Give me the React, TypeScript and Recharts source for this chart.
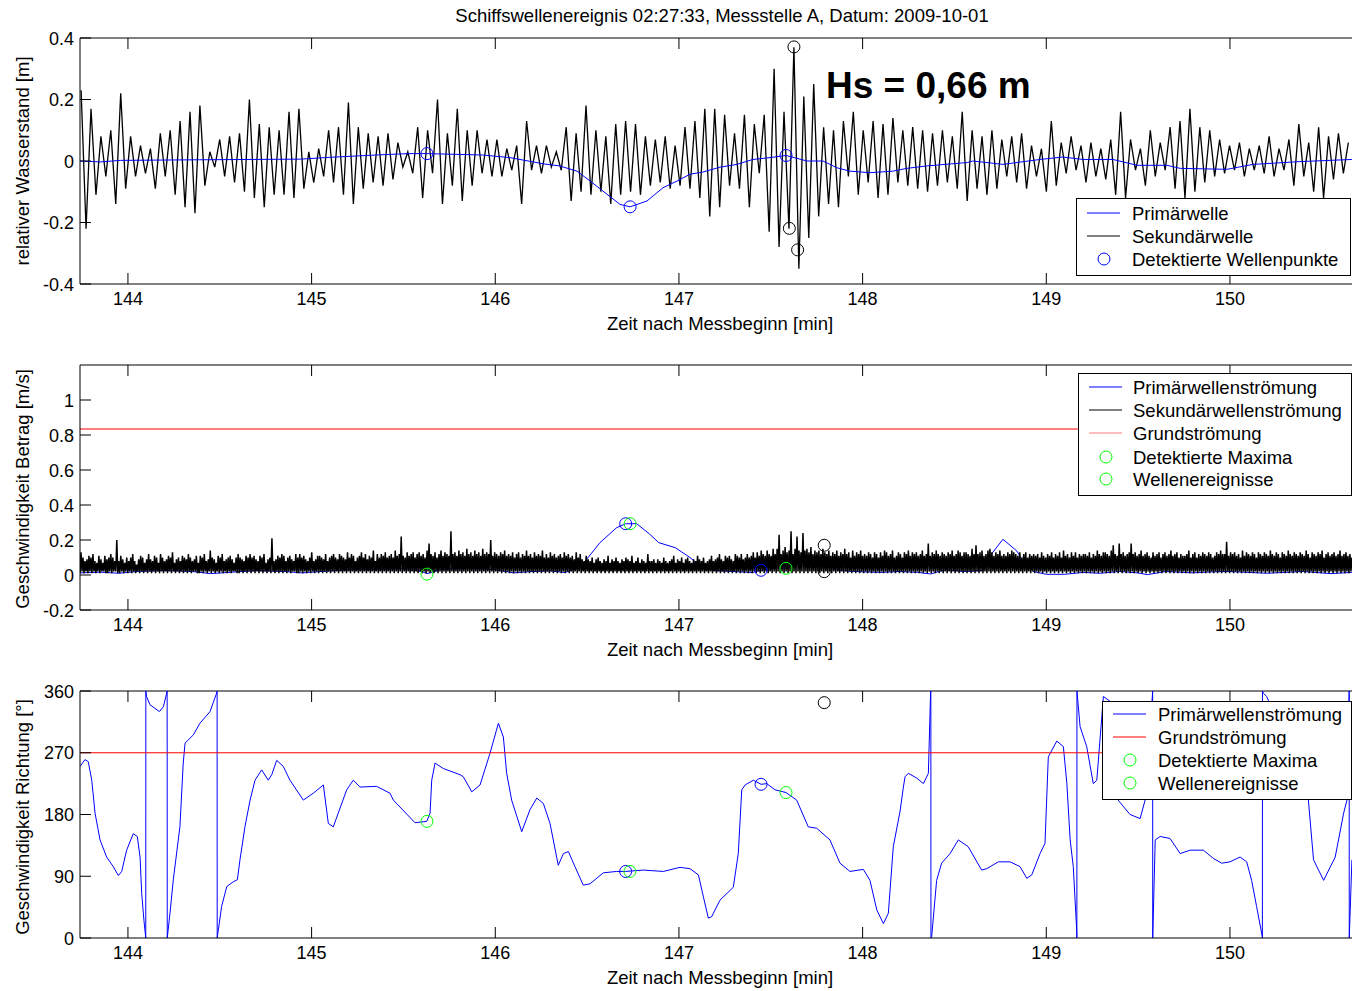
import React from "react";
import { ComposedChart, Line, Scatter, XAxis, YAxis, ReferenceLine } from "recharts";

const X_MIN = 143.739;
const X_MAX = 150.708;
const xTicks = [144, 145, 146, 147, 148, 149, 150];

const title = "Schiffswellenereignis 02:27:33, Messstelle A, Datum: 2009-10-01";
const xLabel = "Zeit nach Messbeginn [min]";
const hsText = "Hs = 0,66 m";

// ---- Panel 1: Wasserstand ----
const wasserTicks = [-0.4, -0.2, 0, 0.2, 0.4];
const sekStart = 143.745;
const sekStep = 0.026951;
// Sekundärwelle in cm, one value per sample
const sekundaerCm =
  "23,-22,17,-11,8,-5,10,-14,22,-9,8,-5,5,-4,4,-9,9,-5,10,-11,13,-15,16,-17,18,-8,3,-2,7,-5," +
  "8,-7,9,-10,20,-12,12,-15,11,-11,10,-11,16,-12,17,-9,3,-7,4,-5,10,-7,11,-11,19,-14,11,-9,9,-7," +
  "8,-8,9,-6,6," +
  "-2,3,-4,11,-12,10,-4,20,-14,9,-8,17,-13,10,-8,10,-4,7,-5,7,-5,4,-3,5,-14,13,-3,5,-4,5," +
  "-2,3,-3,11,-13,9,-10,18,-11,10,-10,8,-14,12,-11,13,-10,12,-11,8,-8,7,-7,8,-9,5,-8,11,-9,13," +
  "-12,17,-18,17," +
  "-15,15,-8,9,-9,15,-15,12,-4,15,-23,30,-28,16,-22,37,-35,21,-25,25,-18,11,-14,10,-15,13,-5,16,-11,10," +
  "-7,13,-12,12,-11,14,-7,10,-8,11,-9,10,-10,9,-8,10,-7,8,-9,16,-13,10,-9,8,-11,10,-9,7,-5,8," +
  "-7,9," +
  "-9,5,-5,4,-10,13,-8,6,-4,8,-3,5,-7,6,-5,4,-6,7,-11,16,-12,7,-3,4,-8,10,-5,6,-3,11," +
  "-9,13,-12,17,-10,11,-7,10,-5,7,-4,5,-3,6,-5,4,-3,5,-4,8,-5,4,-3,7,-8,12,-5,6,-10,11," +
  "-12,8,-6,9,-4,6";

const primaerWelle: [number, number][] = [
  [143.739, 0.0], [143.85, -0.003], [143.96, 0.002], [144.39, 0.004], [144.94, 0.006],
  [145.1, 0.012], [145.37, 0.02], [145.525, 0.024], [145.628, 0.024], [145.93, 0.0195],
  [146.08, 0.011], [146.26, -0.009], [146.35, -0.016], [146.445, -0.033], [146.516, -0.065],
  [146.608, -0.108], [146.679, -0.141], [146.734, -0.149], [146.826, -0.13], [146.913, -0.087],
  [146.99, -0.065], [147.06, -0.043], [147.13, -0.036], [147.224, -0.02], [147.316, -0.011],
  [147.403, 0.005], [147.496, 0.011], [147.583, 0.018], [147.697, 0.0], [147.784, 0.0],
  [147.86, -0.022], [147.93, -0.033], [148.04, -0.038], [148.165, -0.033], [148.24, -0.024],
  [148.35, -0.016], [148.57, -0.005], [148.6, 0.0], [148.764, -0.011], [148.966, 0.005],
  [149.09, 0.013], [149.2, 0.005], [149.363, 0.005], [149.494, -0.014], [149.657, -0.014],
  [149.73, -0.024], [149.984, -0.027], [150.126, -0.011], [150.38, -0.002], [150.664, 0.005],
];
const wellenpunkte: [number, number][] = [[145.628, 0.024], [146.734, -0.149], [147.583, 0.018]];
const hsPunkte: [number, number][] = [[147.626, 0.371], [147.601, -0.219], [147.646, -0.289]];

// ---- Panel 2: Betrag ----
const betragTicks = [-0.2, 0, 0.2, 0.4, 0.6, 0.8, 1];
const grundBetrag = 0.834;
// Sekundärwellenströmung in cm/s, base 36 digits, one sample per character
const sekStroemung = [
  "1d2a18291b", "2a1c28172b", "19272b191a", "2c1a282k18", "1b29172a18", "2a1c281629",
  "1b2a17291c", "29182b1a27", "1c2a18291b", "2a1d27192a", "182b1a291c", "2a18292b17",
  "1b2a1c2819", "2e1a29172b", "1a2c18291a", "2b19272a1c", "1a29182b1a", "2c1a2b1928",
  "1b2a1c2719", "2a1l28192b", "1a2c1b281a", "2b19282c1a", "1c2a1b2918", "2a1d28192b",
  "1b2a192c18", "2a1b2c1a29", "1c2b1a291d", "2a1c2b182a", "1b2d1a2c19", "2b1a2e182c",
  "1a2c1b2d1a", "2b1c2a1e2b", "1c2m1b2a1d", "2b1c2d1a2c", "1d2b1c2a1e", "2i1c2b1d2a",
  "1c2e1b2d1c", "2b1p2c1d2b", "1e2c1d2b1f", "2c1d2b1e2c", "1d2b1f2c1d", "2c1k2b1d2c",
  "1b2d1c2e1b", "2c1b2d1a2c", "1d2a1c2b1e", "2b1c2a1d2b", "1c2b1e2a1c", "2a1d2b1c2a",
  "1b2c1a2d1b", "2c1a2b192d", "1a2c19281b", "29182a1729", "1a28172918", "2b1729182a",
  "182719281a", "29182b1728", "1a27192817", "2c18281927", "1928172a18", "2718291b27",
  "19281a2719", "2a18271928", "1b29182a17", "28192b1829", "1a2c19281b", "2a1b29182c",
  "1b2a1c291a", "2c1a2b1d2a", "1d2b1e2c1b", "2e1c2b1f2c", "1f2n1c2e1g", "2d1e2p1c2f",
  "1m2e1d2o1e", "2f1d2g1c2e", "1d2e1c2f1d", "2c1e2b1d2c", "1e2b1d2c1f", "2c1d2a1e2b",
  "1d2c1e2b1c", "2b1d2c1a2d", "1c2a1d2b1e", "2d1b2c1e2a", "1b2d1c2a1d", "2c1e2b1d2c",
  "1d2b1c2e1b", "2c1i2b1d2c", "1e2c1b2d1c", "2b1d2c1e2b", "1c2e1d2b1d", "2d1c2b1f2c",
  "1h2c1d2e1b", "2c1e2f1d2b", "1d2c1e2b1c", "2b1d2c1e2d", "1c2b1d2a1c", "2d1a2c1b2c",
  "1b2c1a2d1b", "2a1c2b1d2a", "1c2b1d2a1e", "2b1c2a1d2b", "1d2a1c2b1c", "2c1b2d1a2c",
  "1b2e1c2b1d", "2d1c2b1e2h", "1c2b1i2c1d", "2b1c2d1i2c", "1d2b1c2e1b", "2c1d2b1a2d",
  "1b2c1d2a1c", "2d1b2c1e2b", "1c2d1a2c1b", "2b1c2e1a2c", "1d2a1c2b1d", "2c1b2d1c2a",
  "1b2d1c2e1c", "2c1j2b1d2c", "1d2b1c2a1e", "2b1d2c1b2d", "1c2a1d2c1b", "2d1c2b1e2c",
  "1b2d1c2a1d", "2c1b2e1c2b", "1d2c1b2d1c", "2b1e2c1a2d", "1c2b1d2c1e", "2a1c2d1b2c",
  "1d2b1c2e1b", "2c1d2b1c2a",
].join("");
const primaerStroemung: [number, number][] = [
  [143.739, 0.012], [143.85, 0.016], [143.95, 0.01], [144.05, 0.02], [144.2, 0.026], [144.35, 0.02],
  [144.45, 0.008], [144.55, 0.015], [144.7, 0.025], [144.85, 0.02], [144.95, 0.012], [145.05, 0.02],
  [145.2, 0.03], [145.35, 0.03], [145.5, 0.036], [145.6, 0.02], [145.628, 0.008], [145.7, 0.03],
  [145.85, 0.04], [146.0, 0.03], [146.1, 0.012], [146.2, 0.02], [146.3, 0.024], [146.38, 0.014],
  [146.45, 0.04], [146.49, 0.08], [146.57, 0.185], [146.66, 0.27], [146.71, 0.293], [146.77, 0.293],
  [146.84, 0.234], [146.89, 0.185], [146.98, 0.156], [147.06, 0.1], [147.13, 0.04], [147.2, 0.025],
  [147.3, 0.02], [147.4, 0.014], [147.447, 0.027], [147.53, 0.04], [147.583, 0.038], [147.66, 0.08],
  [147.75, 0.11], [147.79, 0.08], [147.85, 0.03], [147.95, 0.02], [148.1, 0.015], [148.2, 0.02],
  [148.3, 0.015], [148.37, 0.006], [148.45, 0.03], [148.55, 0.02], [148.65, 0.025], [148.7, 0.118],
  [148.764, 0.204], [148.84, 0.137], [148.873, 0.08], [148.93, 0.02], [149.0, 0.004], [149.1, 0.004],
  [149.2, 0.015], [149.29, 0.01], [149.4, 0.02], [149.5, 0.012], [149.55, 0.002], [149.65, 0.02],
  [149.8, 0.012], [149.9, 0.018], [150.0, 0.02], [150.2, 0.01], [150.4, 0.02], [150.55, 0.008],
  [150.664, 0.015],
];
const betragMaxima: [number, number][] = [[146.71, 0.293], [147.447, 0.027]];
const betragEreignisse: [number, number][] = [[145.628, 0.005], [146.734, 0.293], [147.583, 0.038]];
const betragSchwarz: [number, number][] = [[147.791, 0.17], [147.791, 0.019]];

// ---- Panel 3: Richtung ----
const richtungTicks = [0, 90, 180, 270, 360];
const grundRichtung = 270;
const richtung: [number, number][] = [
  [143.739, 250], [143.766, 260], [143.784, 257], [143.803, 230], [143.821, 182], [143.848, 143],
  [143.884, 118], [143.92, 104], [143.948, 91], [143.966, 97], [143.993, 128], [144.029, 152],
  [144.051, 148], [144.066, 118], [144.075, 65], [144.087, 26], [144.097, 0],
  [144.0975, 360], [144.101, 352], [144.12, 340], [144.171, 330], [144.193, 337], [144.211, 357], [144.2135, 360],
  [144.214, 0], [144.229, 36], [144.247, 85], [144.283, 162], [144.301, 255], [144.311, 284],
  [144.356, 296], [144.392, 313], [144.447, 330], [144.483, 357], [144.4855, 360],
  [144.486, 0], [144.51, 46], [144.538, 75], [144.574, 82], [144.596, 85], [144.61, 114],
  [144.637, 162], [144.665, 201], [144.692, 230], [144.728, 245], [144.764, 230], [144.783, 238],
  [144.81, 259], [144.846, 250], [144.882, 230], [144.955, 201], [145.009, 211], [145.064, 223],
  [145.091, 167], [145.118, 162], [145.145, 182], [145.191, 216], [145.227, 230], [145.263, 220],
  [145.354, 221], [145.427, 211], [145.445, 201], [145.563, 168], [145.627, 170], [145.645, 182],
  [145.654, 230], [145.672, 255], [145.717, 247], [145.808, 238], [145.826, 235], [145.872, 213],
  [145.917, 223], [145.971, 269], [146.017, 313], [146.044, 293], [146.062, 240], [146.089, 201],
  [146.144, 155], [146.189, 187], [146.226, 204], [146.262, 196], [146.298, 167], [146.343, 106],
  [146.371, 123], [146.398, 126], [146.434, 104], [146.479, 77], [146.516, 79], [146.588, 95],
  [146.661, 97], [146.71, 97], [146.806, 99], [146.915, 97], [147.006, 103], [147.06, 101],
  [147.106, 92], [147.133, 60], [147.16, 29], [147.178, 31], [147.223, 55], [147.296, 74],
  [147.323, 123], [147.342, 216], [147.36, 223], [147.405, 230], [147.447, 224], [147.478, 225],
  [147.523, 216], [147.583, 212], [147.641, 201], [147.704, 162], [147.75, 160], [147.822, 143],
  [147.877, 109], [147.931, 97], [148.004, 100], [148.04, 84], [148.077, 41], [148.113, 21],
  [148.14, 36], [148.167, 133], [148.204, 185], [148.222, 220], [148.231, 235], [148.249, 240],
  [148.295, 233], [148.331, 225], [148.358, 240], [148.37, 357], [148.3715, 360],
  [148.372, 0], [148.376, 2], [148.403, 84], [148.43, 109], [148.476, 123], [148.521, 143],
  [148.575, 133], [148.648, 99], [148.676, 101], [148.739, 111], [148.803, 111], [148.857, 104],
  [148.894, 87], [148.921, 92], [148.966, 123], [148.993, 138], [149.011, 264], [149.057, 287],
  [149.093, 279], [149.112, 225], [149.13, 143], [149.147, 104], [149.166, 9], [149.1665, 0],
  [149.167, 360], [149.184, 308], [149.22, 279], [149.256, 225], [149.275, 230], [149.311, 352],
  [149.347, 345], [149.391, 201], [149.456, 180], [149.511, 174], [149.538, 201], [149.566, 300], [149.579, 360],
  [149.5795, 0], [149.593, 143], [149.62, 148], [149.674, 145], [149.729, 123], [149.783, 128],
  [149.855, 128], [149.91, 116], [149.955, 109], [150.0, 111], [150.055, 118], [150.091, 111],
  [150.118, 84], [150.145, 46], [150.176, 2], [150.1765, 0],
  [150.177, 360], [150.181, 357], [150.2, 352], [150.3, 290], [150.427, 201], [150.455, 114],
  [150.51, 84], [150.573, 118], [150.619, 182], [150.637, 201], [150.645, 300], [150.649, 360],
  [150.6495, 0], [150.664, 114],
];
const richtungMaxima: [number, number][] = [[146.71, 97], [147.447, 224]];
const richtungEreignisse: [number, number][] = [[145.628, 170], [146.733, 97], [147.583, 212]];
const richtungSchwarz: [number, number][] = [[147.791, 343]];

const legend1 = ["Primärwelle", "Sekundärwelle", "Detektierte Wellenpunkte"];
const legend2 = ["Primärwellenströmung", "Sekundärwellenströmung", "Grundströmung", "Detektierte Maxima", "Wellenereignisse"];
const legend3 = ["Primärwellenströmung", "Grundströmung", "Detektierte Maxima", "Wellenereignisse"];

const FONT = "'Liberation Sans', Arial, Helvetica, sans-serif";
const BLUE = "#0000ff";
const GREEN = "#00ff00";
const PINK = "#ff7f7f";

const pts = (arr: [number, number][]) => arr.map(([t, v]) => ({ t, v }));
const sekundaer = sekundaerCm.split(",").map((s, i) => ({ t: sekStart + i * sekStep, v: Number(s) / 100 }));
const betragStep = (150.664 - X_MIN) / (sekStroemung.length - 1);
const sekBetrag = sekStroemung.split("").map((c, i) => ({ t: X_MIN + i * betragStep, v: parseInt(c, 36) / 100 }));

function XTick(props: any) {
  const { x, y, payload, plotH } = props;
  return (
    <g>
      <line x1={x} x2={x} y1={y} y2={y - 11} stroke="#000" />
      <line x1={x} x2={x} y1={y - plotH} y2={y - plotH + 11} stroke="#000" />
      <text x={x} y={y + 21} textAnchor="middle" fontSize={18} fontFamily={FONT} fill="#000">
        {payload.value}
      </text>
    </g>
  );
}

function YTick(props: any) {
  const { x, y, payload } = props;
  return (
    <g>
      <line x1={x} x2={x + 11} y1={y} y2={y} stroke="#000" />
      <text x={x - 6} y={y + 6.5} textAnchor="end" fontSize={18} fontFamily={FONT} fill="#000">
        {String(payload.value)}
      </text>
    </g>
  );
}

const ring = (color: string) => (p: any) => (
  <circle cx={p.cx} cy={p.cy} r={6} fill="none" stroke={color} strokeWidth={1} />
);

function axes(plotH: number, xH: number, domain: [number, number], ticks: number[]) {
  return [
    <XAxis
      key="x"
      dataKey="t"
      type="number"
      domain={[X_MIN, X_MAX]}
      allowDataOverflow
      ticks={xTicks}
      interval={0}
      height={xH}
      tickSize={0}
      tickMargin={0}
      tickLine={false}
      axisLine={{ stroke: "#000" }}
      tick={<XTick plotH={plotH} />}
    />,
    <YAxis
      key="y"
      dataKey="v"
      type="number"
      domain={domain}
      allowDataOverflow
      ticks={ticks}
      interval={0}
      width={80}
      tickSize={0}
      tickMargin={0}
      tickLine={false}
      axisLine={{ stroke: "#000" }}
      tick={<YTick />}
    />,
    <ReferenceLine key="top" y={domain[1]} stroke="#000" />,
  ];
}

const chartProps = { width: 1360, height: 330, margin: { top: 38, right: 0, bottom: 0, left: 0 } };

function LegendBox(props: {
  x: number; y: number; w: number; rows: number[]; items: string[];
  marks: ("line" | "ring")[]; colors: string[]; lineX: number; textX: number;
}) {
  const { x, y, w, rows, items, marks, colors, lineX, textX } = props;
  const h = rows[rows.length - 1] - y + 16;
  return (
    <g>
      <rect x={x + 0.5} y={y + 0.5} width={w} height={h} fill="#fff" stroke="#000" />
      {items.map((name, i) => (
        <g key={name + i}>
          {marks[i] === "line" ? (
            <line x1={lineX} x2={lineX + 33} y1={rows[i]} y2={rows[i]} stroke={colors[i]} />
          ) : (
            <circle cx={lineX + 17} cy={rows[i]} r={6} fill="none" stroke={colors[i]} />
          )}
          <text x={textX} y={rows[i] + 6.5} fontSize={18.5} fontFamily={FONT} fill="#000">
            {name}
          </text>
        </g>
      ))}
    </g>
  );
}

export default function App() {
  return (
    <div style={{ position: "absolute", left: 0, top: 0, width: 1352, height: 991, overflow: "hidden", background: "#fff" }}>
      <div style={{ position: "absolute", left: 0, top: 0 }}>
        <ComposedChart {...chartProps}>
          {axes(246, 46, [-0.4, 0.4], wasserTicks)}
          <Line data={sekundaer} dataKey="v" stroke="#000" strokeWidth={1.3} dot={false} activeDot={false} isAnimationActive={false} />
          <Line data={pts(primaerWelle)} dataKey="v" stroke={BLUE} strokeWidth={1} dot={false} activeDot={false} isAnimationActive={false} />
          <Scatter data={pts(wellenpunkte)} dataKey="v" shape={ring(BLUE)} isAnimationActive={false} />
          <Scatter data={pts(hsPunkte)} dataKey="v" shape={ring("#000")} isAnimationActive={false} />
        </ComposedChart>
      </div>
      <div style={{ position: "absolute", left: 0, top: 327 }}>
        <ComposedChart {...chartProps}>
          {axes(245, 47, [-0.2, 1.2], betragTicks)}
          <Line data={pts(primaerStroemung)} dataKey="v" stroke={BLUE} strokeWidth={1} dot={false} activeDot={false} isAnimationActive={false} />
          <Line data={sekBetrag} dataKey="v" stroke="#000" strokeWidth={1.5} dot={false} activeDot={false} isAnimationActive={false} />
          <ReferenceLine y={grundBetrag} stroke={PINK} strokeWidth={2} />
          <Scatter data={pts(betragMaxima)} dataKey="v" shape={ring(BLUE)} isAnimationActive={false} />
          <Scatter data={pts(betragEreignisse)} dataKey="v" shape={ring(GREEN)} isAnimationActive={false} />
          <Scatter data={pts(betragSchwarz)} dataKey="v" shape={ring("#000")} isAnimationActive={false} />
        </ComposedChart>
      </div>
      <div style={{ position: "absolute", left: 0, top: 653 }}>
        <ComposedChart {...chartProps}>
          {axes(247, 45, [0, 360], richtungTicks)}
          <Line data={pts(richtung)} dataKey="v" stroke={BLUE} strokeWidth={1} dot={false} activeDot={false} isAnimationActive={false} />
          <ReferenceLine y={grundRichtung} stroke="#ff0000" strokeWidth={1} />
          <Scatter data={pts(richtungMaxima)} dataKey="v" shape={ring(BLUE)} isAnimationActive={false} />
          <Scatter data={pts(richtungEreignisse)} dataKey="v" shape={ring(GREEN)} isAnimationActive={false} />
          <Scatter data={pts(richtungSchwarz)} dataKey="v" shape={ring("#000")} isAnimationActive={false} />
        </ComposedChart>
      </div>
      <svg width={1352} height={991} style={{ position: "absolute", left: 0, top: 0, pointerEvents: "none" }}>
        <text x={722} y={22} textAnchor="middle" fontSize={18.5} fontFamily={FONT} fill="#000">{title}</text>
        <text x={826} y={98} fontSize={37} fontWeight="bold" fontFamily={FONT} fill="#000">{hsText}</text>
        {[330, 656, 984].map((y) => (
          <text key={y} x={720} y={y} textAnchor="middle" fontSize={18.5} fontFamily={FONT} fill="#000">{xLabel}</text>
        ))}
        <text transform="translate(29,161) rotate(-90)" textAnchor="middle" fontSize={18.5} fontFamily={FONT} fill="#000">
          relativer Wasserstand [m]
        </text>
        <text transform="translate(29,489) rotate(-90)" textAnchor="middle" fontSize={18.5} fontFamily={FONT} fill="#000">
          Geschwindigkeit Betrag [m/s]
        </text>
        <text transform="translate(29,817) rotate(-90)" textAnchor="middle" fontSize={18.5} fontFamily={FONT} fill="#000">
          Geschwindigkeit Richtung [°]
        </text>
        <LegendBox x={1076} y={198} w={274} rows={[213, 236, 259]} items={legend1}
          marks={["line", "line", "ring"]} colors={[BLUE, "#000", BLUE]} lineX={1087} textX={1132} />
        <LegendBox x={1078} y={373} w={273} rows={[387, 410, 433, 457, 479]} items={legend2}
          marks={["line", "line", "line", "ring", "ring"]} colors={[BLUE, "#000", PINK, GREEN, GREEN]} lineX={1089} textX={1133} />
        <LegendBox x={1102} y={701} w={249} rows={[714, 737, 760, 783]} items={legend3}
          marks={["line", "line", "ring", "ring"]} colors={[BLUE, "#ff0000", GREEN, GREEN]} lineX={1113} textX={1158} />
      </svg>
    </div>
  );
}
